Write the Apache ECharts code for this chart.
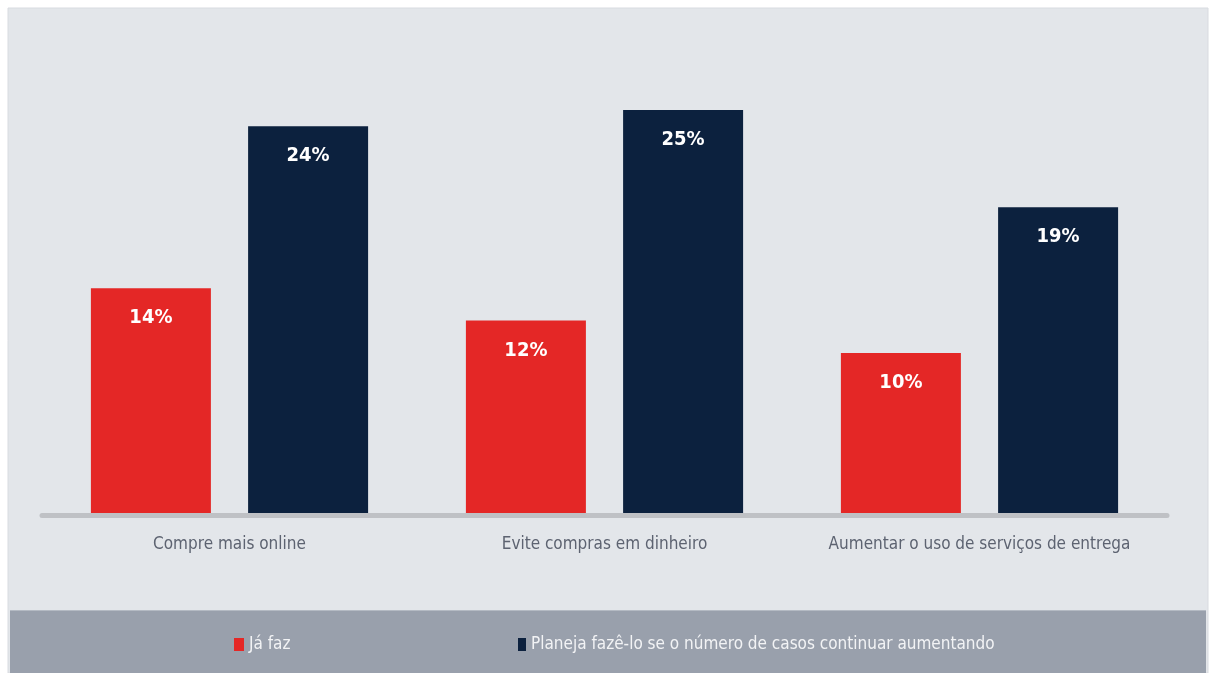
<!DOCTYPE html>
<html>
<head>
<meta charset="utf-8">
<script src="https://cdn.jsdelivr.net/npm/echarts@6/dist/echarts.min.js"></script>
<style>
  html, body { margin: 0; padding: 0; background: #ffffff; }
  #chart { width: 1211px; height: 673px; }
</style>
</head>
<body>
<div id="chart"></div>
<script>
// categorias e valores (%)
var categorias = ['Compre mais online', 'Evite compras em dinheiro', 'Aumentar o uso de serviços de entrega'];
var jaFaz = [14, 12, 10];
var planeja = [24, 25, 19];
var nomeJaFaz = 'Já faz';
var nomePlaneja = 'Planeja fazê-lo se o número de casos continuar aumentando';

var fonteNarrow = '"DejaVu Sans Condensed", "Liberation Sans Narrow", sans-serif';

var myChart = echarts.init(document.getElementById('chart'));

var rotulo = {
    show: true,
    position: 'insideTop',
    distance: 20,
    color: '#ffffff',
    fontFamily: fonteNarrow,
    fontWeight: 'bold',
    fontSize: 20,
    formatter: '{c}%'
};

var legendaTexto = {
    color: '#f2f3f5',
    fontFamily: fonteNarrow,
    fontSize: 17
};

var option = {
    backgroundColor: '#ffffff',
    animation: false,
    graphic: [
        // painel de fundo
        {
            type: 'rect', z: -10,
            shape: { x: 8, y: 8, width: 1200, height: 665 },
            style: { fill: '#e3e6ea', stroke: '#d8dbe0', lineWidth: 1 }
        },
        // faixa da legenda
        {
            type: 'rect', z: -9,
            shape: { x: 10, y: 610, width: 1196, height: 63 },
            style: { fill: '#99a0ac' }
        },
        {
            type: 'line', z: -8,
            shape: { x1: 10, y1: 610.5, x2: 1206, y2: 610.5 },
            style: { stroke: '#b4bac3', lineWidth: 1 }
        }
    ],
    legend: [
        {
            left: 234, top: 636, padding: 0,
            data: [nomeJaFaz],
            icon: 'rect', itemWidth: 10, itemHeight: 13, itemGap: 4,
            textStyle: legendaTexto
        },
        {
            left: 518, top: 636, padding: 0,
            data: [nomePlaneja],
            icon: 'rect', itemWidth: 8, itemHeight: 13, itemGap: 4,
            textStyle: legendaTexto
        }
    ],
    grid: {
        left: 42,
        right: 44,
        top: 29,
        bottom: 158
    },
    xAxis: {
        type: 'category',
        data: categorias,
        axisLine: { show: true, lineStyle: { color: '#bfc1c5', width: 5 } },
        axisTick: { show: false },
        axisLabel: {
            interval: 0,
            margin: 21,
            color: '#5d6371',
            fontFamily: fonteNarrow,
            fontSize: 17
        },
        z: 5
    },
    yAxis: {
        type: 'value',
        min: 0,
        max: 30,
        show: false,
        splitLine: { show: false }
    },
    series: [
        {
            name: nomeJaFaz,
            type: 'bar',
            data: jaFaz,
            barWidth: 120,
            barGap: '31%',
            itemStyle: { color: '#e42726' },
            label: rotulo
        },
        {
            name: nomePlaneja,
            type: 'bar',
            data: planeja,
            barWidth: 120,
            itemStyle: { color: '#0c213e' },
            label: rotulo
        }
    ]
};

myChart.setOption(option);
</script>
</body>
</html>
